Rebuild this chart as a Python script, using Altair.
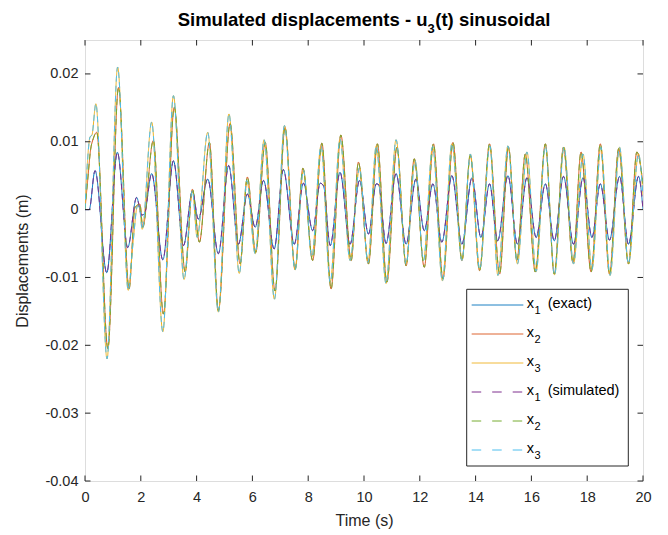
import altair as alt
import pandas as pd

# ---- data (time in s, displacement in m) ----
T_X1 = [0, 0.15, 0.36, 0.78, 1.16, 1.53, 1.85, 2.03, 2.13, 2.39, 2.79, 3.17, 3.53, 3.85, 4.06, 4.40,
        4.78, 5.15, 5.50, 5.82, 6.10, 6.40, 6.78, 7.11, 7.50, 7.83, 8.16, 8.43, 8.55, 8.79, 9.14, 9.50,
        9.84, 10.16, 10.44, 10.52, 10.79, 11.15, 11.51, 11.86, 12.16, 12.47, 12.79, 13.15, 13.51, 13.87,
        14.19, 14.50, 14.79, 15.16, 15.50, 15.84, 16.17, 16.50, 16.82, 17.15, 17.51, 17.85, 18.17, 18.47,
        18.80, 19.16, 19.48, 19.84, 20.0]
V_X1 = [0, 0.0, 0.00575, -0.0093, 0.00845, -0.0056, 0.0018, -0.0008, -0.0006, 0.0053, -0.0074, 0.0072,
        -0.0053, 0.0027, -0.0014, 0.0045, -0.0065, 0.0065, -0.0051, 0.0023, -0.0026, 0.0043, -0.0058,
        0.0059, -0.0051, 0.0039, -0.0031, 0.0039, 0.0035, -0.0053, 0.0055, -0.0051, 0.0043, -0.0036,
        0.0038, 0.0037, -0.0050, 0.0053, -0.0051, 0.0045, -0.0031, 0.0038, -0.0048, 0.0050, -0.0051,
        0.0047, -0.0041, 0.0038, -0.0046, 0.0050, -0.0051, 0.0047, -0.0041, 0.0038, -0.0046, 0.0049,
        -0.0051, 0.0047, -0.0041, 0.0038, -0.0045, 0.0049, -0.0051, 0.0049, 0.0]

T_X2 = [0, 0.10, 0.20, 0.30, 0.42, 0.82, 1.20, 1.58, 1.79, 1.97, 2.07, 2.45, 2.81, 3.20, 3.59, 3.85,
        4.10, 4.46, 4.78, 5.20, 5.56, 5.82, 6.12, 6.46, 6.81, 7.17, 7.53, 7.81, 8.16, 8.49, 8.82, 9.17,
        9.54, 9.80, 10.16, 10.48, 10.82, 11.18, 11.51, 11.80, 12.16, 12.49, 12.83, 13.19, 13.51, 13.81,
        14.14, 14.50, 14.86, 15.18, 15.48, 15.78, 16.14, 16.50, 16.82, 17.15, 17.49, 17.78, 18.14, 18.47,
        18.80, 19.13, 19.48, 19.78, 20.0]
V_X2 = [0, 0.0045, 0.0088, 0.0105, 0.0114, -0.0205, 0.0180, -0.0117, 0.0003, 0.0008, -0.0026, 0.0102,
        -0.0154, 0.0151, -0.0092, 0.0030, -0.0048, 0.0099, -0.0149, 0.0127, -0.0080, 0.0048, -0.0063,
        0.0099, -0.0120, 0.0121, -0.0088, 0.0061, -0.0075, 0.0098, -0.0117, 0.0110, -0.0075, 0.0070,
        -0.0080, 0.0097, -0.0107, 0.0092, -0.0083, 0.0075, -0.0085, 0.0097, -0.0102, 0.0099, -0.0075,
        0.0080, -0.0090, 0.0097, -0.0095, 0.0092, -0.0075, 0.0082, -0.0092, 0.0097, -0.0095, 0.0092,
        -0.0078, 0.0085, -0.0092, 0.0097, -0.0095, 0.0090, -0.0080, 0.0085, 0.0038]

T_X3 = [0, 0.08, 0.18, 0.25, 0.39, 0.79, 1.17, 1.55, 1.72, 1.88, 1.95, 2.05, 2.39, 2.79, 3.17, 3.55,
        3.85, 4.02, 4.40, 4.78, 5.16, 5.53, 5.80, 6.10, 6.42, 6.79, 7.15, 7.53, 7.83, 8.13, 8.46, 8.79,
        9.14, 9.50, 9.84, 10.14, 10.44, 10.79, 11.15, 11.51, 11.83, 12.13, 12.46, 12.81, 13.15, 13.51,
        13.81, 14.15, 14.51, 14.80, 15.16, 15.50, 15.84, 16.17, 16.50, 16.83, 17.17, 17.51, 17.85, 18.17,
        18.49, 18.82, 19.16, 19.48, 19.84, 20.0]
V_X3 = [0, 0.0065, 0.0107, 0.0110, 0.0156, -0.0220, 0.0210, -0.0119, -0.0050, 0.0005, 0.0004, -0.0029,
        0.0129, -0.0180, 0.0168, -0.0103, 0.0028, -0.0041, 0.0114, -0.0151, 0.0141, -0.0094, 0.0043,
        -0.0065, 0.0103, -0.0132, 0.0124, -0.0089, 0.0058, -0.0070, 0.0094, -0.0107, 0.0104, -0.0075,
        0.0062, -0.0078, 0.0094, -0.0109, 0.0103, -0.0080, 0.0072, -0.0075, 0.0093, -0.0105, 0.0097,
        -0.0075, 0.0082, -0.0088, 0.0094, -0.0097, 0.0094, -0.0080, 0.0085, -0.0091, 0.0094, -0.0096,
        0.0092, -0.0080, 0.0082, -0.0088, 0.0092, -0.0097, 0.0092, -0.0080, 0.0082, 0.0020]

# simulated responses lie on top of the exact ones in the reference
T_X1_SIM = list(T_X1)
V_X1_SIM = list(V_X1)
T_X2_SIM = list(T_X2)
V_X2_SIM = list(V_X2)
T_X3_SIM = list(T_X3)
V_X3_SIM = list(V_X3)

SERIES = ["a1", "a2", "a3", "s1", "s2", "s3"]
LEG_SUB = ["1", "2", "3", "1", "2", "3"]
LEG_SUFFIX = ["(exact)", "", "", "(simulated)", "", ""]
COLORS = ["#0072BD", "#D95319", "#EDB120", "#7E2F8E", "#77AC30", "#4DBEEE"]
DASHES = [[1, 0], [1, 0], [1, 0], [6, 4], [6, 4], [6, 4]]
DASHES_LEG = [[1, 0], [1, 0], [1, 0], [9.5, 11], [9.5, 11], [9.5, 11]]

TITLE_MAIN = "Simulated displacements - u"
TITLE_SUB = "3"
TITLE_END = "(t) sinusoidal"

X_TICKS = [0, 2, 4, 6, 8, 10, 12, 14, 16, 18, 20]
Y_TICKS = [-0.04, -0.03, -0.02, -0.01, 0.0, 0.01, 0.02]

FONT = "Liberation Sans"
W, H = 558, 441

rows = []
for key, ts, vs in [("a1", T_X1, V_X1), ("a2", T_X2, V_X2), ("a3", T_X3, V_X3),
                    ("s1", T_X1_SIM, V_X1_SIM), ("s2", T_X2_SIM, V_X2_SIM), ("s3", T_X3_SIM, V_X3_SIM)]:
    for t, v in zip(ts, vs):
        rows.append({"series": key, "t": t, "v": v})
df = pd.DataFrame(rows)

xscale = alt.Scale(domain=[0, 20], nice=False, zero=False)
yscale = alt.Scale(domain=[-0.04, 0.025], nice=False, zero=False)
cscale = alt.Scale(domain=SERIES, range=COLORS)
dscale = alt.Scale(domain=SERIES, range=DASHES)
dscale_leg = alt.Scale(domain=SERIES, range=DASHES_LEG)

lines = alt.Chart(df).mark_line(strokeWidth=1, interpolate="monotone", clip=True).encode(
    x=alt.X("t:Q", scale=xscale, title="Time (s)",
            axis=alt.Axis(values=X_TICKS, ticks=False, domain=False, grid=False, labelFlush=False,
                          labelFont=FONT, labelFontSize=14.5, labelColor="#262626",
                          labelPadding=9, titleFont=FONT, titleFontSize=16,
                          titleFontWeight="normal", titleColor="#262626", titlePadding=9)),
    y=alt.Y("v:Q", scale=yscale, title="Displacements (m)",
            axis=alt.Axis(values=Y_TICKS, ticks=False, domain=False, grid=False, labelFlush=False,
                          labelExpr="datum.value == 0 ? '0' : toString(round(datum.value*100)/100)",
                          labelFont=FONT, labelFontSize=14.5, labelColor="#262626",
                          labelPadding=7, titleFont=FONT, titleFontSize=16,
                          titleFontWeight="normal", titleColor="#262626", titlePadding=14)),
    color=alt.Color("series:N", scale=cscale, legend=None),
    strokeDash=alt.StrokeDash("series:N", scale=dscale, legend=None),
    detail="series:N",
    order=alt.Order("t:Q"),
)

xt = pd.DataFrame({"t": X_TICKS})
yt = pd.DataFrame({"v": Y_TICKS})
tick_color = "#262626"
xb = alt.Chart(xt).mark_rule(color=tick_color, strokeWidth=1).encode(
    x=alt.X("t:Q", scale=xscale), y=alt.value(H), y2=alt.value(H - 5.5))
xtop = alt.Chart(xt).mark_rule(color=tick_color, strokeWidth=1).encode(
    x=alt.X("t:Q", scale=xscale), y=alt.value(0), y2=alt.value(5.5))
yl = alt.Chart(yt).mark_rule(color=tick_color, strokeWidth=1).encode(
    y=alt.Y("v:Q", scale=yscale, axis=None), x=alt.value(0), x2=alt.value(5.5))
yr = alt.Chart(yt).mark_rule(color=tick_color, strokeWidth=1).encode(
    y=alt.Y("v:Q", scale=yscale, axis=None), x=alt.value(W), x2=alt.value(W - 5.5))

# ---- title as text with a real lowered subscript ----
tdf = pd.DataFrame({"main": [TITLE_MAIN], "sub": [TITLE_SUB], "end": [TITLE_END]})
t_main = alt.Chart(tdf).mark_text(font=FONT, fontSize=18.5, fontWeight="bold", color="#000000",
                                  align="right", baseline="alphabetic").encode(
    x=alt.value(342.5), y=alt.value(-14), text="main:N")
t_sub = alt.Chart(tdf).mark_text(font=FONT, fontSize=13, fontWeight="bold", color="#000000",
                                 align="left", baseline="alphabetic").encode(
    x=alt.value(342.5), y=alt.value(-7.5), text="sub:N")
t_end = alt.Chart(tdf).mark_text(font=FONT, fontSize=18.5, fontWeight="bold", color="#000000",
                                 align="left", baseline="alphabetic").encode(
    x=alt.value(350.3), y=alt.value(-14), text="end:N")

# ---- legend drawn by hand (box, sample lines, labels with subscripts) ----
leg = pd.DataFrame({"series": SERIES, "row": list(range(len(SERIES))),
                    "sub": LEG_SUB, "suffix": LEG_SUFFIX})
rowscale = alt.Scale(domain=[0, 5], range=[265, 410])
leg_box = alt.Chart(pd.DataFrame({"row": [0]})).mark_rect(
    fill="white", stroke="#262626", strokeWidth=1).encode(
    x=alt.value(381.7), x2=alt.value(543.3), y=alt.value(249.3), y2=alt.value(426))
leg_lines = alt.Chart(leg).mark_rule(strokeWidth=1).encode(
    y=alt.Y("row:Q", scale=rowscale, axis=None),
    x=alt.value(386.7), x2=alt.value(438.3),
    color=alt.Color("series:N", scale=cscale, legend=None),
    strokeDash=alt.StrokeDash("series:N", scale=dscale_leg, legend=None))
leg_x = alt.Chart(leg).mark_text(font=FONT, fontSize=14.5, color="#000000", align="left",
                                 baseline="middle", dy=-1).encode(
    y=alt.Y("row:Q", scale=rowscale, axis=None), x=alt.value(441.7), text=alt.value("x"))
leg_sub = alt.Chart(leg).mark_text(font=FONT, fontSize=11, color="#000000", align="left",
                                   baseline="middle", dy=6).encode(
    y=alt.Y("row:Q", scale=rowscale, axis=None), x=alt.value(449.5), text="sub:N")
leg_suf = alt.Chart(leg).mark_text(font=FONT, fontSize=14.5, color="#000000", align="left",
                                   baseline="middle", dy=-1).encode(
    y=alt.Y("row:Q", scale=rowscale, axis=None), x=alt.value(462.7), text="suffix:N")

chart = alt.layer(lines, xb, xtop, yl, yr, t_main, t_sub, t_end,
                  leg_box, leg_lines, leg_x, leg_sub, leg_suf).resolve_scale(
    y="independent", strokeDash="independent"
).properties(
    width=W, height=H,
    autosize=alt.AutoSizeParams(type="none"),
    padding={"left": 85, "top": 40, "right": 25, "bottom": 54},
).configure_view(stroke="#808080", strokeWidth=1.2).configure(background="white")

chart.save("out.html", embed_options={"renderer": "svg", "actions": False})
